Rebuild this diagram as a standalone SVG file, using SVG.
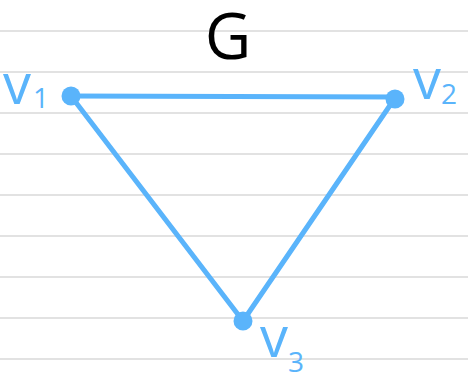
<svg xmlns="http://www.w3.org/2000/svg" width="468" height="378" viewBox="0 0 468 378">
<style>
.rule{stroke:#d9d9d9;stroke-width:1.5}
.edge{stroke:#5ab4fb;stroke-width:5;stroke-linecap:round;fill:none}
.dot{fill:#5ab4fb}
.lbl{font-family:"Open Sans","Liberation Sans",sans-serif;fill:#5ab4fb;font-weight:400}
.sub{font-size:28px}
</style>
<rect width="468" height="378" fill="#ffffff"/>
<g id="paper">
<line class="rule" x1="0" y1="31" x2="468" y2="31"/>
<line class="rule" x1="0" y1="72" x2="468" y2="72"/>
<line class="rule" x1="0" y1="113" x2="468" y2="113"/>
<line class="rule" x1="0" y1="154" x2="468" y2="154"/>
<line class="rule" x1="0" y1="195" x2="468" y2="195"/>
<line class="rule" x1="0" y1="236" x2="468" y2="236"/>
<line class="rule" x1="0" y1="277" x2="468" y2="277"/>
<line class="rule" x1="0" y1="318" x2="468" y2="318"/>
<line class="rule" x1="0" y1="359" x2="468" y2="359"/>
</g>
<g id="title"><text x="228" y="59" text-anchor="middle" font-family="'Open Sans','Liberation Sans',sans-serif" font-size="64" fill="#000000">G</text></g>
<g id="connectors">
<line class="edge" x1="71" y1="96" x2="395" y2="97"/>
<line class="edge" x1="71" y1="96" x2="243" y2="321"/>
<line class="edge" x1="395" y1="98" x2="243" y2="321"/>
</g>
<g id="v1"><circle class="dot" cx="71" cy="96" r="9.5"/><text class="lbl" x="3" y="104" font-size="56">v<tspan class="sub" dx="2" dy="4">1</tspan></text></g>
<g id="v2"><circle class="dot" cx="395" cy="99" r="9.5"/><text class="lbl" x="413" y="99" font-size="56">v<tspan class="sub" dx="0" dy="5">2</tspan></text></g>
<g id="v3"><circle class="dot" cx="243" cy="321" r="9.5"/><text class="lbl" x="260" y="357" font-size="56">v<tspan class="sub" dx="0" dy="15">3</tspan></text></g>
</svg>
